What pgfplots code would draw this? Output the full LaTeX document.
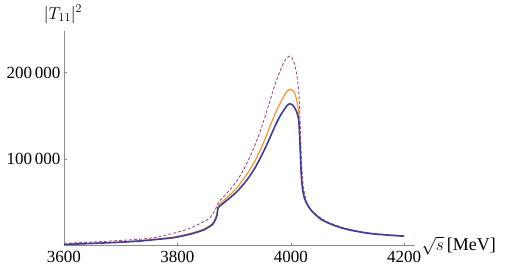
\documentclass[border=0pt]{standalone}
\usepackage{pgfplots}
\pgfplotsset{compat=1.18}
\usepackage{pgfplotstable}
\usepackage{fontspec}
\setmainfont{Liberation Serif}
\definecolor{mblue}{rgb}{0.24,0.24,0.62}
\definecolor{morange}{rgb}{1,0.55,0.1}
\definecolor{mpurple}{rgb}{0.62,0.3,0.52}
\pgfplotstableread{
x y
3600 1400
3650 2600
3700 4000
3734 5400
3760 7000
3793 9250
3822 13200
3846 18100
3861 23900
3865 27500
3868 31700
3870 36000
3872 44000
3880 48500
3893 55500
3905 62500
3916 70500
3926 79000
3936 89000
3946 101000
3955 113000
3964 126000
3972 138000
3980 148500
3987 156000
3993 161500
3998 164000
4003 162500
4008 158000
4011 153000
4014 145000
4016 120000
4017.5 95000
4019 77000
4021 64000
4024 55000
4027 50000
4034 42500
4040 38000
4052 31000
4065 26500
4075 23800
4090 20500
4105 18000
4125 15500
4145 13700
4170 12300
4200 11000
}\tblue
\pgfplotstableread{
x y
3600 1700
3650 2900
3700 4400
3734 5900
3760 7600
3793 10000
3822 14000
3846 19000
3861 25000
3865 28700
3868 33000
3870 38000
3872 46000
3880 51000
3893 59000
3905 67000
3916 76500
3926 86000
3936 97000
3946 110000
3955 124000
3964 139000
3972 152000
3980 163000
3987 172000
3993 178000
3998 180500
4003 179500
4007 176000
4010 169000
4013 158000
4015 140000
4016.5 116000
4018 92000
4019.5 76000
4021.5 64500
4024 56000
4027 50500
4034 43000
4040 38500
4052 31500
4065 27000
4075 24200
4090 20800
4105 18300
4125 15800
4145 13900
4170 12500
4200 11200
}\torange
\pgfplotstableread{
x y
3600 2700
3650 4200
3700 6100
3734 7400
3760 9600
3793 14300
3822 20100
3852 29700
3862 36000
3869 45100
3873 50900
3880 55500
3893 65000
3905 75000
3916 87000
3926 100000
3936 115000
3946 132000
3955 150000
3964 169000
3972 186000
3980 200000
3987 211000
3993 217000
3998 219000
4002 217500
4006 211000
4009 203000
4011.5 193000
4014 178000
4016.5 141500
4018 112000
4019.5 91300
4022 68000
4026 55000
4031 45000
4040 38500
4052 32500
4065 27500
4075 24800
4090 21300
4105 18800
4125 16000
4145 14100
4170 12600
4200 11500
}\tdashed
\begin{document}
\begin{tikzpicture}[x=1pt,y=1pt]
\begin{axis}[
  at={(0,0)}, anchor=south west,
  scale only axis, width=351pt, height=214.7pt,
  xmin=3600, xmax=4219, ymin=0, ymax=248000,
  axis x line=bottom, axis y line=left,
  axis line style={-, color=black!45, line width=0.6pt},
  xtick={3600,3800,4000,4200}, ytick={100000,200000},
  tick align=inside, major tick length=3pt,
  tick style={color=black!45, line width=0.6pt},
  scaled x ticks=false, scaled y ticks=false,
  tick label style={font=\fontsize{17}{20}\selectfont, /pgf/number format/fixed, /pgf/number format/assume math mode=true},
  x tick label style={/pgf/number format/1000 sep={}, yshift=-2pt},
  y tick label style={/pgf/number format/1000 sep={\thinspace}},
  xlabel={$\sqrt{s}$\,[MeV]},
  ylabel={$|T_{11}|^2$},
  every axis x label/.style={at={(rel axis cs:1,0)}, anchor=west, xshift=3pt, font=\fontsize{18}{20}\selectfont},
  every axis y label/.style={at={(rel axis cs:0,1)}, anchor=south, xshift=-1pt, yshift=4pt, font=\fontsize{18}{20}\selectfont},
  clip=false,
]
\addplot[mpurple, line width=0.9pt, dash pattern=on 3pt off 2pt, smooth, tension=0.4] table[x=x,y=y] {\tdashed};
\addplot[morange, line width=1.1pt, smooth, tension=0.4] table[x=x,y=y] {\torange};
\addplot[mblue, line width=1.6pt, smooth, tension=0.4] table[x=x,y=y] {\tblue};
\end{axis}
\pgfresetboundingbox
\path (-64,-27.3) rectangle (448,245.7);
\end{tikzpicture}
\end{document}
